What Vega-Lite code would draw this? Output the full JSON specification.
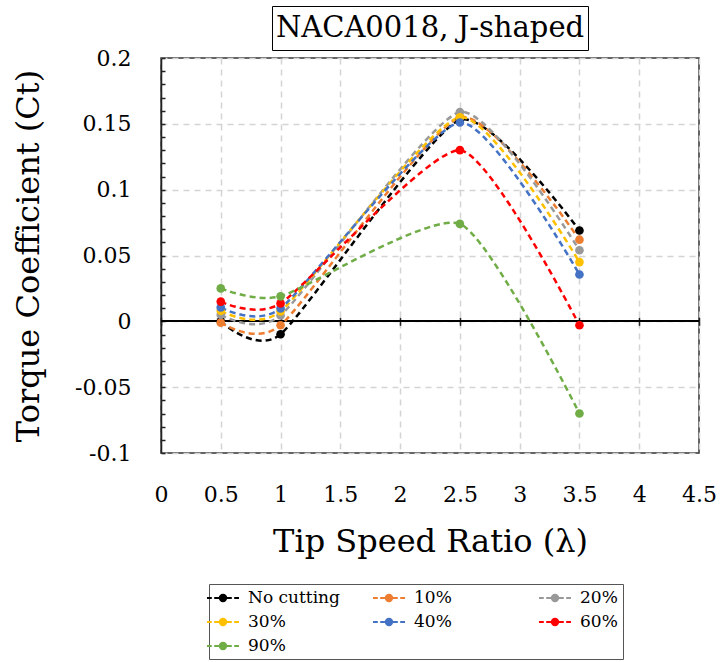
{
  "$schema": "https://vega.github.io/schema/vega-lite/v6.json",
  "background": "white",
  "padding": {"left": 11, "top": 5, "right": 5, "bottom": 5},
  "config": {
    "view": {"stroke": "#333333", "strokeWidth": 1.5},
    "font": "DejaVu Serif"
  },
  "spacing": 8,
  "center": true,
  "bounds": "flush",
  "vconcat": [
    {
      "width": 316,
      "height": 44,
      "view": {"stroke": "black", "strokeWidth": 1},
      "data": {"values": [{"t": "NACA0018, J-shaped"}]},
      "mark": {"type": "text", "font": "DejaVu Serif", "fontSize": 29, "color": "black"},
      "encoding": {"text": {"field": "t", "type": "nominal"}}
    },
    {
      "width": 538,
      "height": 395,
      "data": {
        "values": [
          {"tsr": 0.5, "ct": 0.0, "series": "No cutting"},
          {"tsr": 1.0, "ct": -0.0098, "series": "No cutting"},
          {"tsr": 2.5, "ct": 0.153, "series": "No cutting"},
          {"tsr": 3.5, "ct": 0.069, "series": "No cutting"},
          {"tsr": 0.5, "ct": -0.001, "series": "10%"},
          {"tsr": 1.0, "ct": -0.003, "series": "10%"},
          {"tsr": 2.5, "ct": 0.155, "series": "10%"},
          {"tsr": 3.5, "ct": 0.062, "series": "10%"},
          {"tsr": 0.5, "ct": 0.005, "series": "20%"},
          {"tsr": 1.0, "ct": 0.0045, "series": "20%"},
          {"tsr": 2.5, "ct": 0.159, "series": "20%"},
          {"tsr": 3.5, "ct": 0.054, "series": "20%"},
          {"tsr": 0.5, "ct": 0.008, "series": "30%"},
          {"tsr": 1.0, "ct": 0.0076, "series": "30%"},
          {"tsr": 2.5, "ct": 0.155, "series": "30%"},
          {"tsr": 3.5, "ct": 0.045, "series": "30%"},
          {"tsr": 0.5, "ct": 0.0106, "series": "40%"},
          {"tsr": 1.0, "ct": 0.0098, "series": "40%"},
          {"tsr": 2.5, "ct": 0.151, "series": "40%"},
          {"tsr": 3.5, "ct": 0.0356, "series": "40%"},
          {"tsr": 0.5, "ct": 0.015, "series": "60%"},
          {"tsr": 1.0, "ct": 0.0136, "series": "60%"},
          {"tsr": 2.5, "ct": 0.130, "series": "60%"},
          {"tsr": 3.5, "ct": -0.003, "series": "60%"},
          {"tsr": 0.5, "ct": 0.025, "series": "90%"},
          {"tsr": 1.0, "ct": 0.019, "series": "90%"},
          {"tsr": 2.5, "ct": 0.074, "series": "90%"},
          {"tsr": 3.5, "ct": -0.070, "series": "90%"}
        ]
      },
      "resolve": {"axis": {"x": "independent"}},
      "layer": [
        {
          "mark": {"type": "rule", "color": "black", "strokeWidth": 1.5},
          "encoding": {
            "y": {
              "datum": 0, "type": "quantitative",
              "scale": {"domain": [-0.1, 0.2], "nice": false, "zero": false},
              "axis": {
                "title": "Torque Coefficient (Ct)",
                "values": [-0.1, -0.09, -0.08, -0.07, -0.06, -0.05, -0.04, -0.03, -0.02, -0.01, 0, 0.01, 0.02, 0.03, 0.04, 0.05, 0.06, 0.07, 0.08, 0.09, 0.1, 0.11, 0.12, 0.13, 0.14, 0.15, 0.16, 0.17, 0.18, 0.19, 0.2],
                "tickCount": 100,
                "labelExpr": "abs(round(datum.value*100)) % 5 == 0 ? '' + datum.value : ''",
                "domain": true, "domainColor": "#222222", "domainWidth": 1.5,
                "ticks": true, "tickColor": "#222222", "tickSize": -4, "tickWidth": 1.5,
                "grid": true,
                "gridOpacity": {"condition": {"test": "abs(round(datum.value*100)) % 5 == 0", "value": 1}, "value": 0},
                "gridColor": "#d4d4d4", "gridDash": [6, 5], "gridWidth": 1.5,
                "labelFont": "DejaVu Serif", "labelFontSize": 22, "labelColor": "black",
                "labelPadding": 34, "labelOverlap": false, "labelFlush": false,
                "titleFont": "DejaVu Serif", "titleFontSize": 32, "titleFontWeight": "normal",
                "titleColor": "black", "titlePadding": 29
              }
            }
          }
        },
        {
          "mark": {"type": "line", "interpolate": "cardinal", "tension": 0.4, "strokeDash": [6, 4], "strokeWidth": 2.5},
          "encoding": {
            "x": {
              "field": "tsr", "type": "quantitative",
              "scale": {"domain": [0, 4.5], "nice": false},
              "axis": {
                "orient": "bottom",
                "title": "Tip Speed Ratio (λ)",
                "values": [0, 0.5, 1, 1.5, 2, 2.5, 3, 3.5, 4, 4.5],
                "tickCount": 100,
                "labelExpr": "'' + datum.value",
                "domain": false, "ticks": false,
                "grid": true, "gridColor": "#d4d4d4", "gridDash": [6, 5], "gridWidth": 1.5,
                "labelFont": "DejaVu Serif", "labelFontSize": 22, "labelColor": "black",
                "labelPadding": 31, "labelOverlap": false, "labelFlush": false,
                "titleFont": "DejaVu Serif", "titleFontSize": 32, "titleFontWeight": "normal",
                "titleColor": "black", "titlePadding": 21
              }
            },
            "y": {"field": "ct", "type": "quantitative"},
            "color": {
              "field": "series", "type": "nominal",
              "scale": {
                "domain": ["No cutting", "10%", "20%", "30%", "40%", "60%", "90%"],
                "range": ["#000000", "#ED7D31", "#999999", "#FFC000", "#4472C4", "#FF0000", "#70AD47"]
              },
              "legend": {
                "orient": "none", "legendX": 48, "legendY": 578,
                "direction": "horizontal", "columns": 3, "gridAlign": "all",
                "title": null,
                "symbolType": "M-2,0H-1.4M-1.1,0H-0.5M0.5,0H1.1M1.4,0H2M-0.4,0A0.4,0.4,0,1,1,0.4,0A0.4,0.4,0,1,1,-0.4,0Z",
                "symbolSize": 256, "symbolStrokeWidth": 2,
                "labelOffset": 16, "labelFont": "DejaVu Serif", "labelFontSize": 17, "labelColor": "black",
                "columnPadding": 29, "rowPadding": 7, "padding": 5,
                "strokeColor": "#555555", "fillColor": "white",
                "encode": {
                  "symbols": {
                    "update": {
                      "fill": {"scale": "color", "field": "value"},
                      "stroke": {"scale": "color", "field": "value"}
                    }
                  }
                }
              }
            },
            "detail": {"field": "series"}
          }
        },
        {
          "mark": {"type": "point", "filled": true, "opacity": 1, "size": 75},
          "encoding": {
            "x": {
              "field": "tsr", "type": "quantitative",
              "axis": {
                "orient": "top",
                "title": null, "labels": false, "grid": false,
                "values": [0, 0.5, 1, 1.5, 2, 2.5, 3, 3.5, 4, 4.5],
                "tickCount": 100,
                "domain": false, "ticks": true, "tickSize": 8, "tickColor": "#222222", "tickWidth": 1.5,
                "offset": -267.33
              }
            },
            "y": {"field": "ct", "type": "quantitative"},
            "color": {"field": "series", "type": "nominal", "legend": null}
          }
        }
      ]
    }
  ]
}
